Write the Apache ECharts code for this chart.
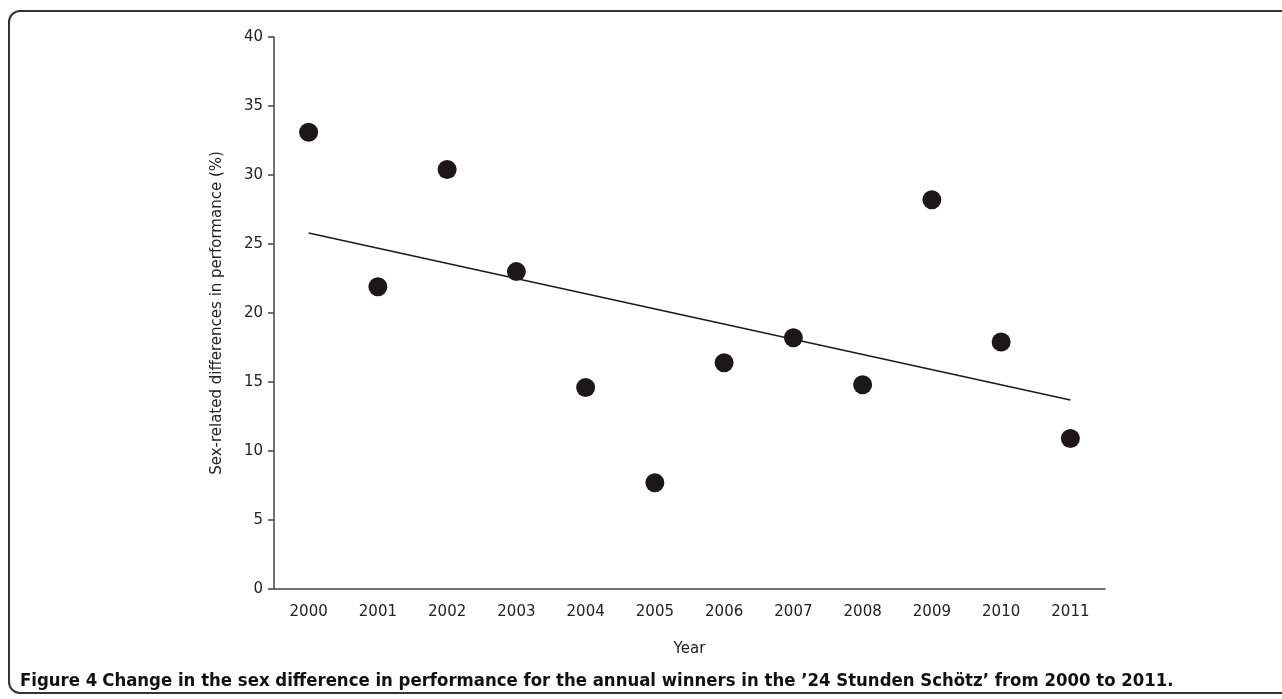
<!DOCTYPE html>
<html>
<head>
<meta charset="utf-8">
<script src="https://cdn.jsdelivr.net/npm/echarts@6/dist/echarts.min.js"></script>
<style>
html,body{margin:0;padding:0;background:#fff;}
#chart{width:1282px;height:699px;}
</style>
</head>
<body>
<div id="chart"></div>
<script>
const years = ['2000','2001','2002','2003','2004','2005','2006','2007','2008','2009','2010','2011'];
const sexDifference = [33.1, 21.9, 30.4, 23.0, 14.6, 7.7, 16.4, 18.2, 14.8, 28.2, 17.9, 10.9];
const trendStart = 25.8;
const trendEnd = 13.7;
const yTicks = [0, 5, 10, 15, 20, 25, 30, 35, 40];
const captionBold = 'Figure 4';
const captionText = 'Change in the sex difference in performance for the annual winners in the \u201924 Stunden Sch\u00f6tz\u2019 from 2000 to 2011.';

const trendData = years.map((y, i) => i === 0 ? trendStart : (i === years.length - 1 ? trendEnd : null));

const axisFont = "'DejaVu Sans', 'Liberation Sans', sans-serif";
const capFont = "'DejaVu Sans Condensed','Liberation Sans Narrow',sans-serif";
const chart = echarts.init(document.getElementById('chart'));
chart.setOption({
  animation: false,
  backgroundColor: '#fff',
  grid: { left: 274, right: 177, top: 37, bottom: 110 },
  title: {
    text: '{b|' + captionBold + '} {t|' + captionText + '}',
    left: 15, top: 667,
    textStyle: {
      rich: {
        b: { fontFamily: capFont, fontWeight: 'bold', fontSize: 18.4, color: '#111' },
        t: { fontFamily: capFont, fontWeight: 'bold', fontSize: 18.4, color: '#111' }
      }
    }
  },
  graphic: [{
    type: 'rect',
    shape: { x: 9, y: 11, width: 1320, height: 682, r: 11 },
    style: { fill: 'none', stroke: '#333', lineWidth: 2 },
    silent: true
  }],
  xAxis: {
    type: 'category',
    data: years,
    boundaryGap: true,
    name: 'Year',
    nameLocation: 'middle',
    nameGap: 53,
    nameTextStyle: { fontFamily: axisFont, fontSize: 15, color: '#222' },
    axisLine: { lineStyle: { color: '#444', width: 1.5 } },
    axisTick: { alignWithLabel: true, length: 6, lineStyle: { color: '#444', width: 1.5 } },
    axisLabel: { fontFamily: axisFont, fontSize: 15, color: '#222', margin: 16 },
    splitLine: { show: false }
  },
  yAxis: {
    type: 'value',
    min: yTicks[0], max: yTicks[yTicks.length - 1], interval: 5,
    name: 'Sex-related differences in performance (%)',
    nameLocation: 'middle',
    nameGap: 49,
    nameTextStyle: { fontFamily: axisFont, fontSize: 15, color: '#222' },
    axisLine: { show: true, lineStyle: { color: '#444', width: 1.5 } },
    axisTick: { show: true, length: 6, lineStyle: { color: '#444', width: 1.5 } },
    axisLabel: { fontFamily: axisFont, fontSize: 15, color: '#222', margin: 11 },
    splitLine: { show: false }
  },
  series: [
    {
      type: 'line',
      data: trendData,
      connectNulls: true,
      showSymbol: false,
      symbol: 'none',
      lineStyle: { color: '#1a1a1a', width: 1.5 },
      z: 2
    },
    {
      type: 'scatter',
      data: sexDifference,
      symbol: 'circle',
      symbolSize: 19,
      itemStyle: { color: '#1c1819', opacity: 1 },
      z: 3
    }
  ]
});
</script>
</body>
</html>
